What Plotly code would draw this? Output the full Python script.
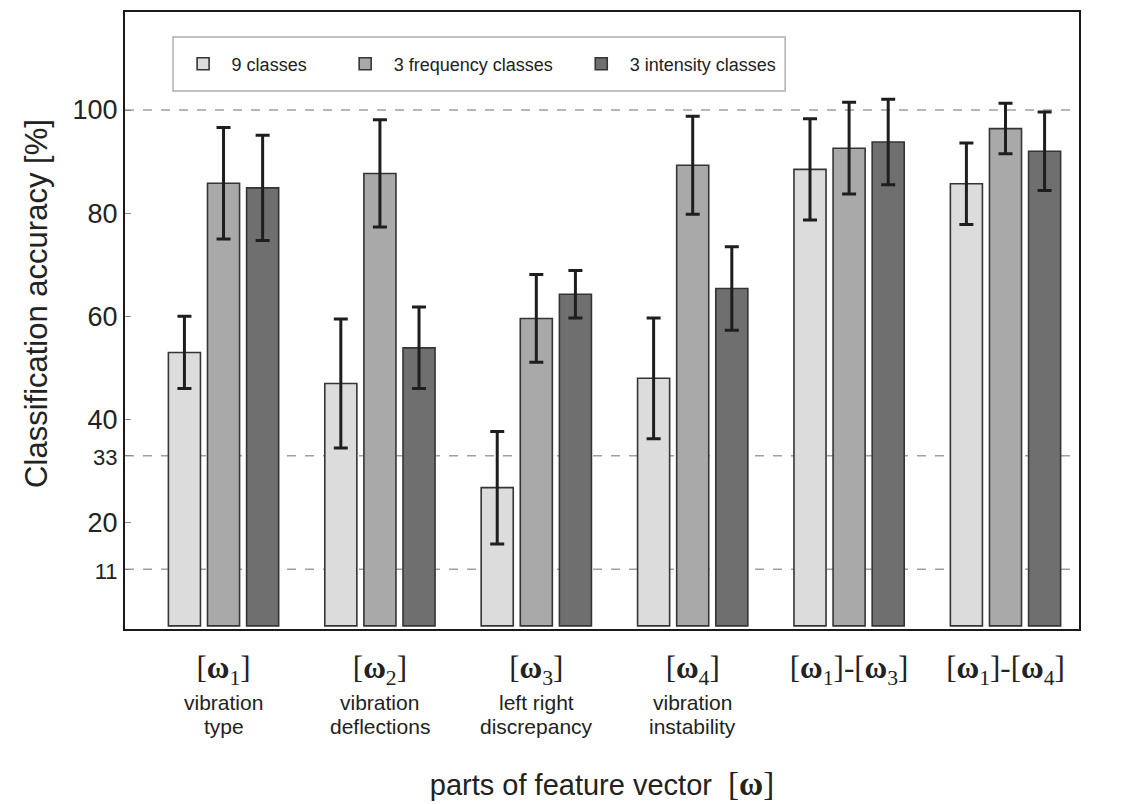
import plotly.graph_objects as go

# ---- data ----
categories = ["[<b>ω</b><sub>1</sub>]", "[<b>ω</b><sub>2</sub>]", "[<b>ω</b><sub>3</sub>]",
              "[<b>ω</b><sub>4</sub>]", "[<b>ω</b><sub>1</sub>]-[<b>ω</b><sub>3</sub>]",
              "[<b>ω</b><sub>1</sub>]-[<b>ω</b><sub>4</sub>]"]
desc_line1 = ["vibration", "vibration", "left right", "vibration", "", ""]
desc_line2 = ["type", "deflections", "discrepancy", "instability", "", ""]
series_names = ["9 classes", "3 frequency classes", "3 intensity classes"]
acc_9 = [53.0, 47.0, 26.8, 48.0, 88.5, 85.7]
err_9 = [7.0, 12.5, 10.9, 11.7, 9.8, 7.9]
acc_freq = [85.8, 87.7, 59.6, 89.3, 92.6, 96.4]
err_freq = [10.8, 10.4, 8.5, 9.5, 8.9, 4.9]
acc_int = [84.9, 53.9, 64.3, 65.4, 93.8, 92.0]
err_int = [10.2, 7.9, 4.6, 8.1, 8.3, 7.6]
ytick_vals = [11, 20, 33, 40, 60, 80, 100]
ytick_text = ["<span style='font-size:22px'>11</span>", "20",
              "<span style='font-size:22px'>33</span>", "40", "60", "80", "100"]
ref_lines = [11, 33, 100]

colors = ["#dcdcdc", "#a9a9a9", "#6f6f6f"]
values = [acc_9, acc_freq, acc_int]
errors = [err_9, err_freq, err_int]
# extra spacing after legend labels (non-breaking spaces) to spread the entries
legend_pad = ["\u00a0" * 5, "\u00a0" * 3, ""]

fig = go.Figure()
for name, v, e, c, pad in zip(series_names, values, errors, colors, legend_pad):
    fig.add_trace(go.Bar(
        x=categories, y=v, name=name + pad,
        marker=dict(color=c, line=dict(color="#353535", width=1.6)),
        error_y=dict(type="data", array=e, visible=True, color="#1e1e1e",
                     thickness=3, width=7),
    ))

for yv in ref_lines:
    fig.add_shape(type="line", xref="paper", x0=0, x1=1, yref="y", y0=yv, y1=yv,
                  line=dict(color="#a0a0a0", width=1.5, dash="dash"), layer="below")

# legend frame
fig.add_shape(type="rect", xref="paper", yref="paper", x0=0.0503, x1=0.692, y0=0.872, y1=0.9595,
              line=dict(color="#b0b0b0", width=1.5), fillcolor="white", layer="below")

desc_font = dict(family="Liberation Sans, Arial", size=21, color="#222")
for i, (l1, l2) in enumerate(zip(desc_line1, desc_line2)):
    if l1:
        fig.add_annotation(x=i, xref="x", y=-0.1199, yref="paper", text=l1,
                           showarrow=False, yanchor="middle", font=desc_font)
    if l2:
        fig.add_annotation(x=i, xref="x", y=-0.1588, yref="paper", text=l2,
                           showarrow=False, yanchor="middle", font=desc_font)

# y-axis title
fig.add_annotation(text="Classification accuracy [%]", xref="paper", yref="paper",
                   x=-0.0922, y=0.527, xanchor="center", yanchor="middle", textangle=-90,
                   showarrow=False, font=dict(size=31, color="#222"))

fig.update_layout(
    width=1133, height=804,
    margin=dict(l=117, r=62, t=4, b=183),
    paper_bgcolor="white", plot_bgcolor="white",
    barmode="group", bargap=0.25, bargroupgap=0.18,
    font=dict(family="Liberation Sans, Arial", color="#222"),
    legend=dict(orientation="h", x=0.052, y=0.9157, xanchor="left", yanchor="middle",
                bgcolor="rgba(0,0,0,0)", borderwidth=0,
                font=dict(size=18, color="#222"), itemwidth=47),
    showlegend=True,
)
fig.update_xaxes(
    range=[-0.63, 5.47], showline=True, mirror=True, linecolor="#1a1a1a", linewidth=2,
    ticks="", ticklabelstandoff=10,
    tickfont=dict(family="Liberation Serif, Times New Roman", size=31, color="#222"),
    title=dict(text="parts of feature vector  <span style='font-family:Liberation Serif;font-size:33px'>[<b>ω</b>]</span>",
               font=dict(size=29, color="#222"), standoff=86),
    automargin=False,
)
fig.update_yaxes(
    range=[-0.6, 119], showline=True, mirror=True, linecolor="#1a1a1a", linewidth=2,
    showgrid=False, zeroline=False, ticks="inside", ticklen=6, tickcolor="#888",
    tickvals=ytick_vals, ticktext=ytick_text,
    tickfont=dict(size=27, color="#222"),
    automargin=False,
)

fig.write_html("out.html")
